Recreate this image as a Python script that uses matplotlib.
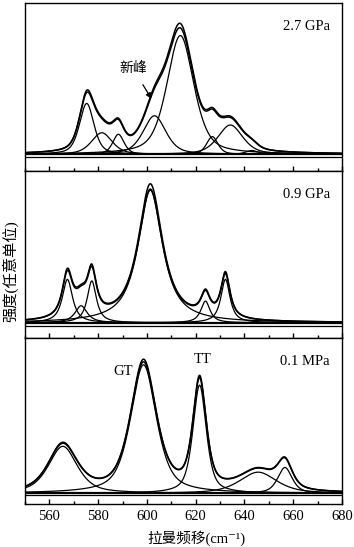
import numpy as np
import matplotlib.pyplot as plt
from matplotlib.ticker import MultipleLocator

plt.rcParams['font.family'] = ['Liberation Serif', 'DejaVu Serif', 'Noto Sans CJK SC']

# fitted peak parameters (cm^-1, arbitrary intensity, FWHM)
p27_centers = [575.3, 581.5, 588.3, 603.1, 613.7, 626.8, 634.2, 643.0]
p27_heights = [0.33, 0.14, 0.13, 0.25, 0.77, 0.115, 0.19, 0.025]
p27_widths = [7.0, 10.0, 5.5, 11.0, 13.0, 5.5, 12.0, 6.0]

p09_centers = [567.4, 573.0, 577.4, 601.4, 624.0, 632.2]
p09_heights = [0.28, 0.11, 0.27, 0.855, 0.14, 0.28]
p09_widths = [5.0, 6.0, 4.5, 12.0, 4.5, 4.5]

p01_centers = [565.5, 598.6, 621.6, 645.6, 656.6]
p01_heights = [0.30, 0.82, 0.69, 0.135, 0.165]
p01_widths = [14.0, 12.5, 6.5, 18.0, 7.0]

panel_labels = ['2.7 GPa', '0.9 GPa', '0.1 MPa']
lorentz_fraction = [0.5, 0.9, 0.6]
baseline_offset = [0.019, 0.019, 0.011]
exp_scale = [1.035, 1.04, 1.02]
ylim_bottom = [-0.087, -0.081, -0.059]


def pseudo_voigt(x, x0, h, w, eta):
    lor = 1.0 / (1.0 + ((x - x0) / (w / 2.0)) ** 2)
    gau = np.exp(-4.0 * np.log(2.0) * ((x - x0) / w) ** 2)
    return h * (eta * lor + (1.0 - eta) * gau)


x = np.linspace(550, 680, 1301)
fig = plt.figure(figsize=(3.54, 5.47), dpi=100)

left, width = 25 / 354, 317 / 354
bounds = [(170.7, 3.0), (338.3, 170.7), (504.3, 338.3)]
peaks = [
    (p27_centers, p27_heights, p27_widths),
    (p09_centers, p09_heights, p09_widths),
    (p01_centers, p01_heights, p01_widths),
]

axes = []
for i, (bot, top) in enumerate(bounds):
    ax = fig.add_axes([left, 1 - bot / 547, width, (bot - top) / 547])
    cs, hs, ws = peaks[i]
    b0 = baseline_offset[i]
    total = np.zeros_like(x)
    for c, h, w in zip(cs, hs, ws):
        comp = pseudo_voigt(x, c, h, w, lorentz_fraction[i])
        total += comp
        ax.plot(x, comp + b0, color='black', lw=0.9)
    ax.plot(x, total + b0, color='black', lw=1.1)
    ax.plot(x, total * exp_scale[i] + b0, color='black', lw=1.1)
    ax.axhline(b0, color='black', lw=1.6)
    ax.axhline(0, color='black', lw=0.9)

    ax.set_xlim(550, 680)
    ax.set_ylim(ylim_bottom[i], 1.0)
    ax.set_yticks([])
    ax.xaxis.set_major_locator(MultipleLocator(20))
    ax.xaxis.set_minor_locator(MultipleLocator(10))
    ax.tick_params(axis='x', which='major', direction='in', length=3.6, width=1.0,
                   top=False, labelsize=10.5, pad=4)
    ax.tick_params(axis='x', which='minor', direction='in', length=2.0, width=1.0, top=False)
    for s in ax.spines.values():
        s.set_linewidth(1.0)
    if i < 2:
        ax.tick_params(axis='x', labelbottom=False)
    ax.text(0.962, 0.86, panel_labels[i], transform=ax.transAxes,
            ha='right', va='center', fontsize=10.5)
    axes.append(ax)

axes[0].annotate('新峰', xy=(601.8, 0.38), xytext=(594.3, 0.577),
                 ha='center', va='center', fontsize=10,
                 arrowprops=dict(arrowstyle='-|>', color='black', lw=0.9,
                                 mutation_scale=8, shrinkA=6, shrinkB=0))
axes[2].text(590.1, 0.79, 'GT', ha='center', va='center', fontsize=10.5)
axes[2].text(623.0, 0.866, 'TT', ha='center', va='center', fontsize=10.5)

fig.text(196 / 354, 1 - 538 / 547, '拉曼频移(cm⁻¹)', ha='center', va='center', fontsize=10.5)
fig.text(10 / 354, 1 - 271 / 547, '强度(任意单位)', rotation=90,
         ha='center', va='center', fontsize=11)

fig.savefig('out.png', dpi=100)
